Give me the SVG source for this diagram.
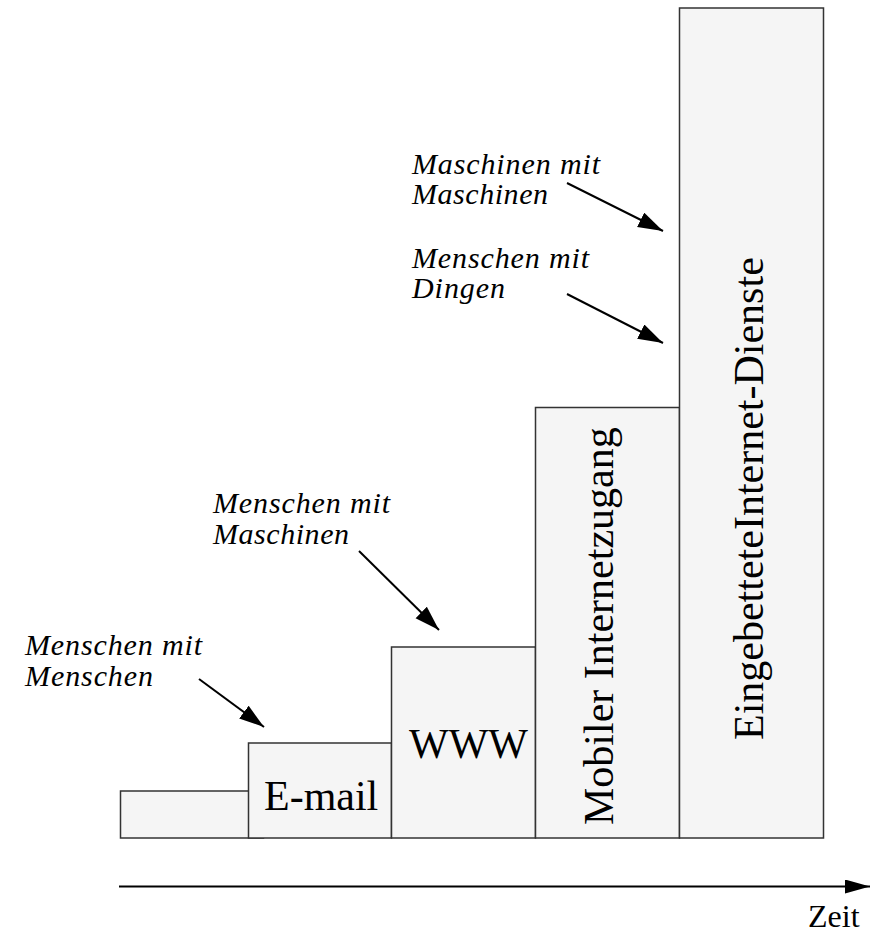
<svg xmlns="http://www.w3.org/2000/svg" width="888" height="934" viewBox="0 0 888 934">
<defs>
<style>
.bar{fill:#f5f5f5;stroke:#333;stroke-width:1.5}
.big{font-family:"Liberation Serif","Times New Roman",serif;font-size:42px;fill:#000}
.lbl{font-family:"Liberation Serif","Times New Roman",serif;font-style:italic;font-size:30px;fill:#000}
.arr{stroke:#000;stroke-width:2;fill:none;marker-end:url(#head)}
</style>
<marker id="head" markerUnits="userSpaceOnUse" markerWidth="26" markerHeight="18" refX="25" refY="8" orient="auto">
<path d="M0,0 L25,8 L0,16 Z" fill="#000"/>
</marker>
<marker id="head2" markerUnits="userSpaceOnUse" markerWidth="26" markerHeight="16" refX="25" refY="7" orient="auto">
<path d="M0,0 L25,7 L0,14 Z" fill="#000"/>
</marker>
</defs>
<rect width="888" height="934" fill="#fff"/>
<g id="bar1"><rect class="bar" x="120.5" y="791" width="143" height="47"/></g>
<g id="email"><rect class="bar" x="248.5" y="743" width="143" height="95"/><text class="big" x="264" y="810">E-mail</text></g>
<g id="www"><rect class="bar" x="391.5" y="647" width="144" height="191"/><text class="big" x="409" y="758">WWW</text></g>
<g id="mobil"><rect class="bar" x="535.5" y="407.5" width="144" height="430.5"/><text class="big" transform="translate(613,825) rotate(-90)">Mobiler Internetzugang</text></g>
<g id="eingebettet"><rect class="bar" x="679.5" y="8" width="144" height="830"/><text class="big" transform="translate(763,740) rotate(-90)">EingebetteteInternet-Dienste</text></g>
<g id="lbl1"><text class="lbl" x="25" y="655" textLength="177">Menschen mit</text><text class="lbl" x="25" y="686" textLength="128">Menschen</text></g>
<g id="lbl2"><text class="lbl" x="213" y="513" textLength="177">Menschen mit</text><text class="lbl" x="213" y="544" textLength="136">Maschinen</text></g>
<g id="lbl3"><text class="lbl" x="412" y="174" textLength="188">Maschinen mit</text><text class="lbl" x="412" y="204" textLength="136">Maschinen</text></g>
<g id="lbl4"><text class="lbl" x="412" y="268" textLength="177">Menschen mit</text><text class="lbl" x="412" y="298" textLength="93">Dingen</text></g>
<g id="zeit"><text class="big" style="font-size:32px" x="808" y="927">Zeit</text></g>
<g id="connectors">
<line class="arr" x1="199" y1="679" x2="264" y2="727"/>
<line class="arr" x1="359" y1="551" x2="439" y2="630"/>
<line class="arr" x1="567" y1="183" x2="663" y2="231"/>
<line class="arr" x1="567" y1="294" x2="663" y2="343"/>
<line x1="119" y1="886.5" x2="870" y2="886.5" stroke="#000" stroke-width="2" marker-end="url(#head2)"/>
</g>
</svg>
